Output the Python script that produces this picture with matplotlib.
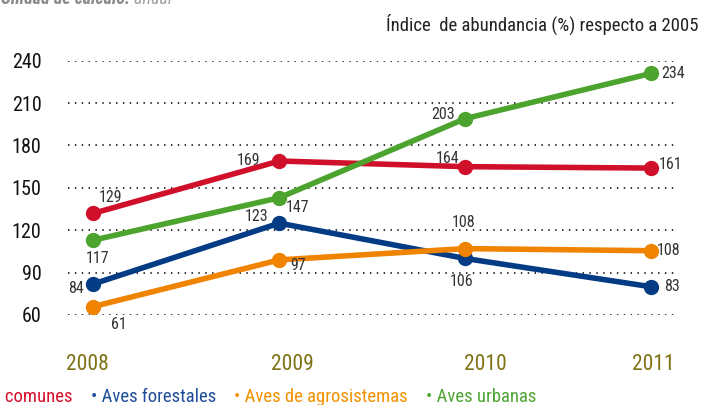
import matplotlib
matplotlib.use('Agg')
import matplotlib.pyplot as plt
import matplotlib.transforms as mtransforms

plt.rcParams['font.family'] = ['Liberation Sans Narrow', 'Roboto Condensed', 'DejaVu Sans Condensed',
                               'Open Sans Condensed', 'DejaVu Sans']
plt.rcParams['font.stretch'] = 'condensed'

# Datos
years = ['2008', '2009', '2010', '2011']
series_names = ['Aves comunes', 'Aves forestales', 'Aves de agrosistemas', 'Aves urbanas']

# posición de los puntos tal como aparecen
comunes = [132, 169, 165, 164]
forestales = [82, 125, 100, 80]
agrosistemas = [66, 99, 107, 105.5]
urbanas = [113, 143, 199, 231]

# etiquetas impresas junto a cada punto
comunes_lbl = [129, 169, 164, 161]
forestales_lbl = [84, 123, 106, 83]
agrosistemas_lbl = [61, 97, 108, 108]
urbanas_lbl = [117, 147, 203, 234]

y_ticks = [60, 90, 120, 150, 180, 210, 240]

line_colors = ['#d0102b', '#033b84', '#f08300', '#4ca32e']
text_colors = ['#d9102c', '#1f4e9a', '#f39200', '#4fa535']

# desplazamiento de cada etiqueta en píxeles (dx, dy hacia arriba)
offsets = [
    [(17, 16), (-31, 1), (-18, 8), (20, 4)],
    [(-17, -5), (-23, 7), (-4, -23), (21, 0)],
    [(25, -18), (19, -6), (-2, 26), (18, 0)],
    [(4, -18), (18, -10), (-22, 4), (22, 0)],
]
# corrimiento horizontal de los años (px), como en el original
year_shift = [-6, 13, 20, 2]

fig = plt.figure(figsize=(7.1, 4.05), dpi=100)
ax = fig.add_axes([68 / 710, 90 / 405, 610 / 710, 254.3 / 405])

values = [comunes, forestales, agrosistemas, urbanas]
labels = [comunes_lbl, forestales_lbl, agrosistemas_lbl, urbanas_lbl]
x = list(range(len(years)))

for vals, lbls, col, offs in zip(values, labels, line_colors, offsets):
    ax.plot(x, vals, color=col, lw=4, marker='o', ms=10, clip_on=False,
            solid_capstyle='round', zorder=3)
    for xi, v, lb, (dx, dy) in zip(x, vals, lbls, offs):
        ax.annotate(str(lb), (xi, v), xytext=(dx, dy), textcoords='offset pixels',
                    ha='center', va='center', fontsize=11.5, color='#333333', zorder=4)

ax.set_xlim(-0.137, 3.145)
ax.set_ylim(60, 240)
ax.set_yticks(y_ticks)
ax.set_xticks(x)
ax.set_xticklabels(years)
for s in ax.spines.values():
    s.set_visible(False)
ax.tick_params(axis='y', length=0, pad=19, labelsize=14.5, labelcolor='#111111')
ax.tick_params(axis='x', length=0, pad=28, labelsize=15.5, labelcolor='#7d7214')
for lab, sh in zip(ax.get_xticklabels(), year_shift):
    lab.set_transform(lab.get_transform() + mtransforms.Affine2D().translate(sh, 0))
ax.grid(axis='y', color='#222222', lw=1.3, linestyle=(0, (0.8, 3.0)))
ax.set_axisbelow(True)

# título arriba a la derecha
fig.text(698 / 710, 1 - 31 / 405, 'Índice  de abundancia (%) respecto a 2005',
         ha='right', va='baseline', fontsize=13.5, color='#222222')

# texto cortado arriba a la izquierda
t = fig.text(130 / 710, 1 - 3.5 / 405, 'Unidad de cálculo:', ha='right', va='baseline',
             fontsize=13, fontweight='bold', fontstyle='italic', color='#8a8a8a')
ax.annotate(' anual', xy=(1, 0), xycoords=t, xytext=(0, 0), textcoords='offset pixels',
            ha='left', va='bottom', fontsize=13, fontstyle='italic', color='#a0a0a0',
            annotation_clip=False)

# leyenda en una fila al pie
prev = fig.text(73 / 710, 2.5 / 405, '• ' + series_names[0], ha='right', va='baseline',
                fontsize=13.5, color=text_colors[0])
for name, col in zip(series_names[1:], text_colors[1:]):
    prev = ax.annotate('• ' + name, xy=(1, 0), xycoords=prev, xytext=(18, 0),
                       textcoords='offset pixels', ha='left', va='bottom',
                       fontsize=13.5, color=col, annotation_clip=False)

fig.savefig('out.png', dpi=100)
